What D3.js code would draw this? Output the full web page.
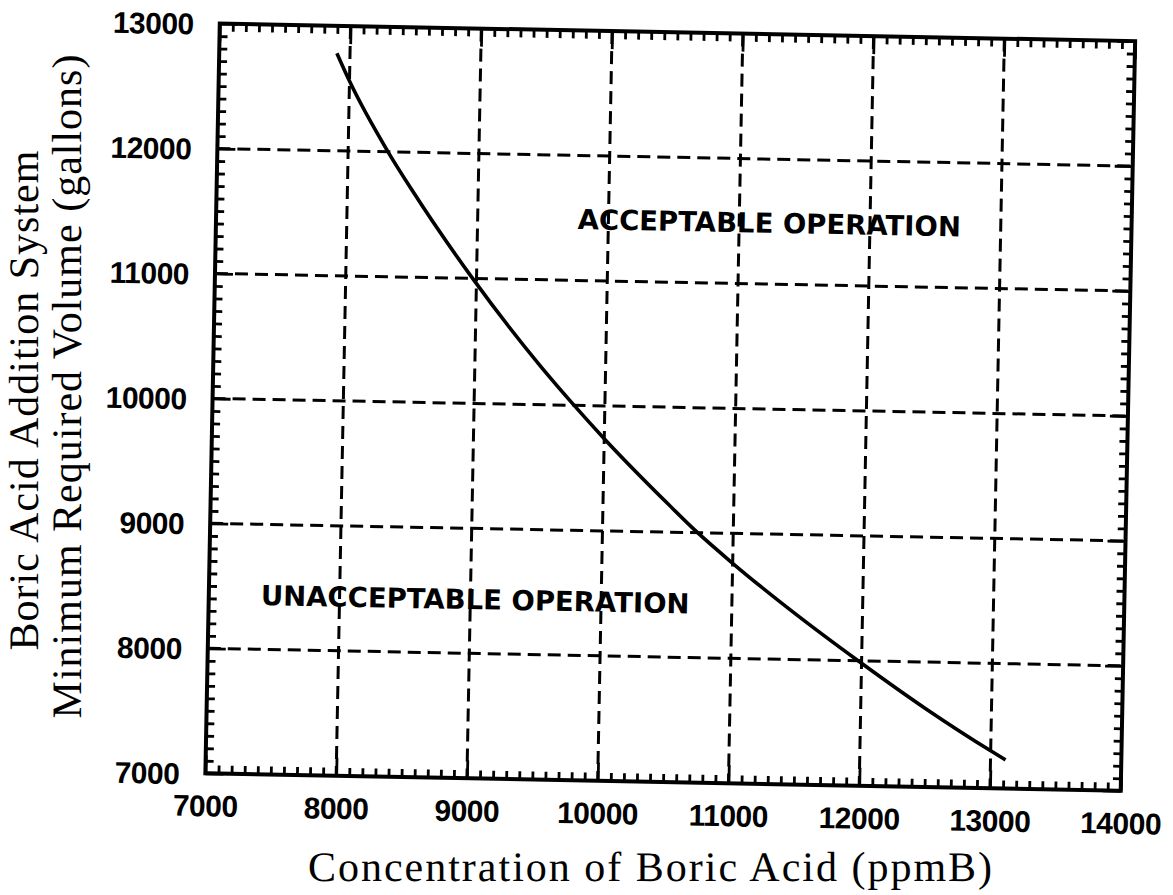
<!DOCTYPE html>
<html>
<head>
<meta charset="utf-8">
<script src="https://cdn.jsdelivr.net/npm/d3@7"></script>
<style>
  html, body { margin: 0; padding: 0; background: #fff; }
  svg { display: block; }
  text { text-rendering: geometricPrecision; }
</style>
</head>
<body>
<svg id="chart" width="1173" height="895"></svg>
<script>
// ---- data ----
const xTickValues = [7000, 8000, 9000, 10000, 11000, 12000, 13000, 14000];
const yTickValues = [7000, 8000, 9000, 10000, 11000, 12000, 13000];
const curveConc   = [7900, 8000, 8305, 8500, 8970, 9500, 9765, 10000, 10500, 10717, 11000, 11500, 11960, 12500, 13000, 13115];
const curveVolume = [12780, 12560, 12000, 11688, 11000, 10311, 10000, 9738, 9223, 9010, 8761, 8356, 8010, 7625, 7300, 7230];
const annotationText = ["ACCEPTABLE OPERATION", "UNACCEPTABLE OPERATION"];
const annotationConc = [11230, 9037];
const annotationVolume = [11490, 8433];
const xTitle = "Concentration of Boric Acid (ppmB)";
const yTitleLines = ["Boric Acid Addition System", "Minimum Required Volume (gallons)"];

// ---- layout ----
const pLeft = 212.5, pRight = 1128, pTop = 32.3, pBottom = 782.1;
const cx = (pLeft + pRight) / 2, cy = (pTop + pBottom) / 2;
const tilt = 1.1;

const svg = d3.select("#chart");
const x = d3.scaleLinear().domain([7000, 14000]).range([pLeft, pRight]);
const y = d3.scaleLinear().domain([7000, 13000]).range([pBottom, pTop]);

const g = svg.append("g").attr("transform", `rotate(${tilt},${cx},${cy})`);

const minorX = d3.range(7000, 14001, 100).filter(v => v % 1000 !== 0);
const minorY = d3.range(7000, 13001, 100).filter(v => v % 1000 !== 0);

// gridlines (dashed)
const grid = g.append("g").attr("stroke", "#000").attr("stroke-width", 3).attr("stroke-dasharray", "13,7").attr("fill", "none");
grid.selectAll("line.vx").data(xTickValues.slice(1, -1)).join("line").attr("class", "vx")
  .attr("x1", d => x(d)).attr("x2", d => x(d)).attr("y1", pTop).attr("y2", pBottom);
grid.selectAll("line.hy").data(yTickValues.slice(1, -1)).join("line").attr("class", "hy")
  .attr("y1", d => y(d)).attr("y2", d => y(d)).attr("x1", pLeft).attr("x2", pRight);

function styleAxis(sel) {
  sel.select(".domain").remove();
  sel.selectAll(".tick line").attr("stroke", "#000").attr("stroke-width", 2.8);
}

// minor ticks, all four sides, pointing inward
g.append("g").attr("transform", `translate(0,${pBottom})`)
  .call(d3.axisBottom(x).tickValues(minorX).tickSize(-8).tickFormat("")).call(styleAxis);
g.append("g").attr("transform", `translate(0,${pTop})`)
  .call(d3.axisTop(x).tickValues(minorX).tickSize(-8).tickFormat("")).call(styleAxis);
g.append("g").attr("transform", `translate(${pLeft},0)`)
  .call(d3.axisLeft(y).tickValues(minorY).tickSize(-8).tickFormat("")).call(styleAxis);
g.append("g").attr("transform", `translate(${pRight},0)`)
  .call(d3.axisRight(y).tickValues(minorY).tickSize(-8).tickFormat("")).call(styleAxis);

// major ticks (solid stubs) + labels
const labelFont = "'Liberation Sans', Arial, sans-serif";
const xAx = g.append("g").attr("transform", `translate(0,${pBottom})`)
  .call(d3.axisBottom(x).tickValues(xTickValues).tickSize(-18).tickPadding(0).tickFormat(d3.format("d")));
styleAxis(xAx);
xAx.selectAll(".tick text").attr("y", 43).attr("dy", 0)
  .attr("font-family", labelFont).attr("font-weight", "bold").attr("font-size", 30)
  .attr("letter-spacing", -0.5).attr("fill", "#000");

const yAx = g.append("g").attr("transform", `translate(${pLeft},0)`)
  .call(d3.axisLeft(y).tickValues(yTickValues).tickSize(-18).tickPadding(0).tickFormat(d3.format("d")));
styleAxis(yAx);
yAx.selectAll(".tick text").attr("x", -26).attr("dy", "0.36em")
  .attr("font-family", labelFont).attr("font-weight", "bold").attr("font-size", 30)
  .attr("letter-spacing", -0.5).attr("fill", "#000");

g.append("g").attr("transform", `translate(0,${pTop})`)
  .call(d3.axisTop(x).tickValues(xTickValues).tickSize(-18).tickFormat("")).call(styleAxis);
g.append("g").attr("transform", `translate(${pRight},0)`)
  .call(d3.axisRight(y).tickValues(yTickValues).tickSize(-18).tickFormat("")).call(styleAxis);

// frame
g.append("rect").attr("x", pLeft).attr("y", pTop).attr("width", pRight - pLeft).attr("height", pBottom - pTop)
  .attr("fill", "none").attr("stroke", "#000").attr("stroke-width", 4);

// curve
const pts = curveConc.map((c, i) => [c, curveVolume[i]]);
g.append("path").datum(pts)
  .attr("d", d3.line().x(d => x(d[0])).y(d => y(d[1])).curve(d3.curveMonotoneX))
  .attr("fill", "none").attr("stroke", "#000").attr("stroke-width", 3.6);

// annotations
g.selectAll("text.ann").data(annotationText).join("text")
  .attr("class", "ann")
  .attr("x", (d, i) => x(annotationConc[i])).attr("y", (d, i) => y(annotationVolume[i])).attr("dy", "0.36em")
  .attr("text-anchor", "middle")
  .attr("font-family", "'DejaVu Sans', sans-serif").attr("font-weight", "bold").attr("font-size", 27.5)
  .attr("fill", "#000")
  .text(d => d);

// axis titles
const titleFont = "'Liberation Serif', 'Times New Roman', serif";
svg.append("text").attr("x", 651).attr("y", 881).attr("text-anchor", "middle")
  .attr("font-family", titleFont).attr("font-size", 42).attr("letter-spacing", 2)
  .attr("fill", "#000").text(xTitle);

svg.selectAll("text.ytitle").data(yTitleLines).join("text")
  .attr("class", "ytitle")
  .attr("transform", (d, i) => i === 0 ? "translate(38,400) rotate(-90)" : "translate(81,386) rotate(-90)")
  .attr("text-anchor", "middle")
  .attr("font-family", titleFont).attr("font-size", 42).attr("letter-spacing", 1)
  .attr("fill", "#000")
  .text(d => d);
</script>
</body>
</html>
